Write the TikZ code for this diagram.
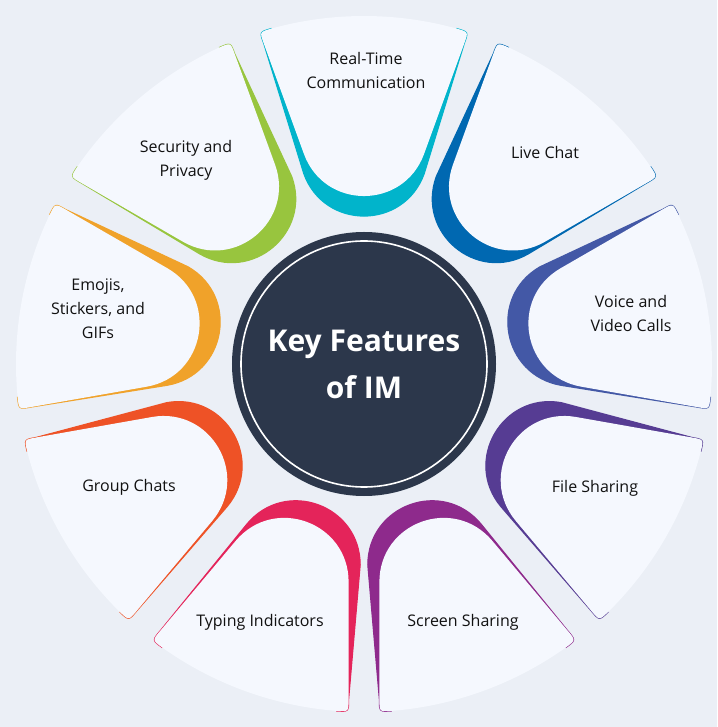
\documentclass[tikz,border=0pt]{standalone}
\usepackage{fontspec}
\setmainfont{Open Sans}
\usetikzlibrary{calc}
\definecolor{imbg}{HTML}{EBEFF6}
\definecolor{impetal}{HTML}{F5F8FE}
\definecolor{imdark}{HTML}{2C374B}
\definecolor{imtext}{HTML}{111111}
\definecolor{rtcol}{HTML}{01B4CB}
\definecolor{lccol}{HTML}{0068B1}
\definecolor{vccol}{HTML}{4358A6}
\definecolor{fscol}{HTML}{563C93}
\definecolor{sscol}{HTML}{8E2A8C}
\definecolor{ticol}{HTML}{E4245A}
\definecolor{gccol}{HTML}{EE5226}
\definecolor{emcol}{HTML}{F0A22A}
\definecolor{spcol}{HTML}{98C53E}
\tikzset{
    % one petal pointing along 0 deg: tip shifted by (#1,#2), outer arc radius #3
    petal shape/.style n args={3}{insert path={
      (-15.5:#3) arc[start angle=-15.5, end angle=15.5, radius=#3] -- (15.5:348)
      .. controls (331.98,104.45) .. (320.7,100.3)
      -- ($(210.1,60.1)+(#1,#2)$)
      .. controls ($(153.9,39.6)+(#1,#2)$) and ($(153.9,-39.6)+(#1,#2)$) .. ($(210.1,-60.1)+(#1,#2)$)
      -- (320.7,-100.3) .. controls (331.98,-104.45) .. (-15.5:348) -- cycle}},
    band/.style={fill=#1, draw=#1, line width=1.2pt},
    label text/.style={font=\fontsize{16}{24}\selectfont, text=imtext, align=center},
    hub/.style={circle, fill=imdark, minimum size=264pt, inner sep=0pt, text=white,
      align=center, font=\fontsize{30}{47}\selectfont\bfseries},
  }
\begin{document}
\begin{tikzpicture}[x=1pt, y=1pt]
  %fond
  \fill[imbg] (-364,-363) rectangle (353,364);
  %petales : angle / couleur / decalage / position du texte / texte
  \foreach \ang/\col/\sh/\tx/\ty/\txt [count=\i] in {
      90/rtcol/0/2/293/{Real-Time\\Communication},
      50/lccol/5/181/211/{Live Chat},
      10/vccol/5/267/50/{Voice and\\Video Calls},
      -30/fscol/5/231/-124/{File Sharing},
      -70/sscol/-5/99/-258/{Screen Sharing},
      -110/ticol/5/-104/-258/{Typing Indicators},
      -150/gccol/-5/-235/-123/{Group Chats},
      170/emcol/-5/-266/55/{Emojis,\\Stickers, and\\GIFs},
      130/spcol/-5/-178/204/{Security and\\Privacy}}
  {
    \begin{scope}[rotate=\ang]
      \filldraw[band=\col] [petal shape={-20}{\sh}{338}];
      \fill[impetal] [petal shape={0}{0}{348}];
    \end{scope}
    \node[label text] (feat-\i) at (\tx,\ty) {\txt};
  }
  \node[hub] (hub) at (0,0) {Key Features\\of IM};
  \draw[white, line width=1.6pt] (hub.center) circle (123);
\end{tikzpicture}
\end{document}
